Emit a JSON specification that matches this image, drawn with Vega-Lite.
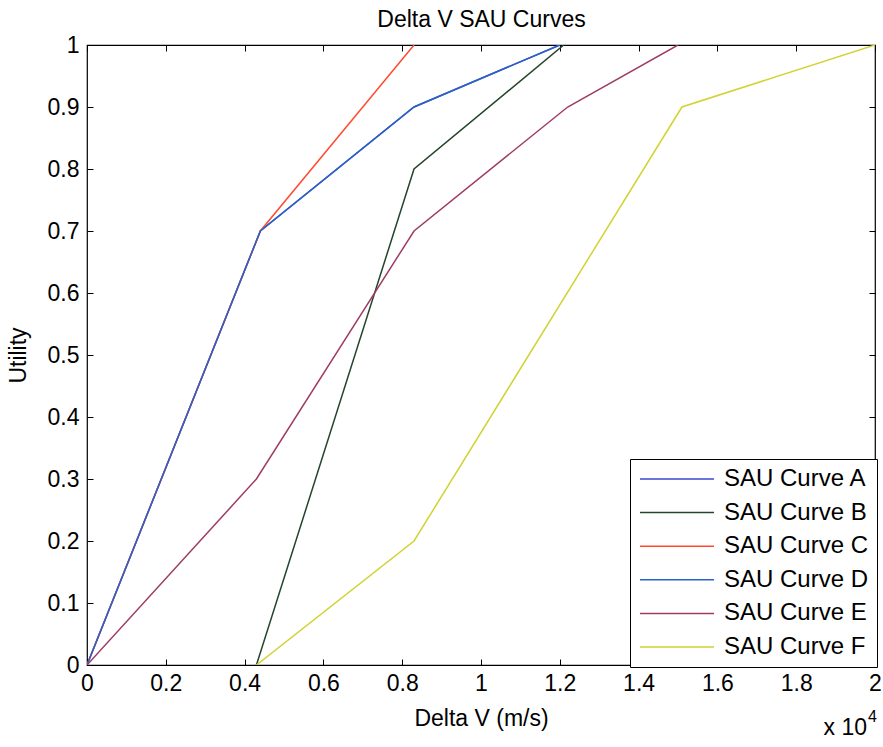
{
  "$schema": "https://vega.github.io/schema/vega-lite/v6.json",
  "width": 788,
  "height": 620,
  "autosize": "none",
  "padding": {"left": 87, "top": 45, "right": 8, "bottom": 82},
  "background": "white",
  "config": {
    "font": "Liberation Sans",
    "view": {"stroke": "black", "strokeWidth": 1.2},
    "axis": {"grid": false, "domainColor": "black", "tickColor": "black", "labelColor": "black", "titleColor": "black", "labelFont": "Liberation Sans", "titleFont": "Liberation Sans"}
  },
  "data": {"values": [
    {"curve": "SAU Curve A", "dv": 0, "u": 0},
    {"curve": "SAU Curve A", "dv": 4400, "u": 0.7},
    {"curve": "SAU Curve A", "dv": 8300, "u": 0.9},
    {"curve": "SAU Curve A", "dv": 12000, "u": 1.0},
    {"curve": "SAU Curve B", "dv": 4300, "u": 0},
    {"curve": "SAU Curve B", "dv": 8300, "u": 0.8},
    {"curve": "SAU Curve B", "dv": 12100, "u": 1.0},
    {"curve": "SAU Curve C", "dv": 0, "u": 0},
    {"curve": "SAU Curve C", "dv": 4400, "u": 0.7},
    {"curve": "SAU Curve C", "dv": 8300, "u": 1.0},
    {"curve": "SAU Curve D", "dv": 0, "u": 0},
    {"curve": "SAU Curve D", "dv": 4400, "u": 0.7},
    {"curve": "SAU Curve D", "dv": 8300, "u": 0.9},
    {"curve": "SAU Curve D", "dv": 12000, "u": 1.0},
    {"curve": "SAU Curve E", "dv": 0, "u": 0},
    {"curve": "SAU Curve E", "dv": 4300, "u": 0.3},
    {"curve": "SAU Curve E", "dv": 8300, "u": 0.7},
    {"curve": "SAU Curve E", "dv": 12200, "u": 0.9},
    {"curve": "SAU Curve E", "dv": 15000, "u": 1.0},
    {"curve": "SAU Curve F", "dv": 4300, "u": 0},
    {"curve": "SAU Curve F", "dv": 8300, "u": 0.2},
    {"curve": "SAU Curve F", "dv": 15100, "u": 0.9},
    {"curve": "SAU Curve F", "dv": 20000, "u": 1.0}
  ]},
  "layer": [
    {
      "mark": {"type": "line", "strokeWidth": 1.5, "clip": true},
      "encoding": {
        "x": {"field": "dv", "type": "quantitative", "scale": {"domain": [0, 20000], "nice": false},
          "axis": {"orient": "bottom", "title": "Delta V (m/s)", "titleFontSize": 23, "titleFontWeight": "normal", "titlePadding": 12,
            "values": [0, 2000, 4000, 6000, 8000, 10000, 12000, 14000, 16000, 18000, 20000],
            "labelExpr": "format(datum.value / 10000, '.1~f')", "labelFontSize": 23, "tickSize": -6, "labelPadding": 13, "domain": false, "labelFlush": false}},
        "y": {"field": "u", "type": "quantitative", "scale": {"domain": [0, 1], "nice": false},
          "axis": {"orient": "left", "title": "Utility", "titleFontSize": 23, "titleFontWeight": "normal", "titlePadding": 17,
            "values": [0, 0.1, 0.2, 0.3, 0.4, 0.5, 0.6, 0.7, 0.8, 0.9, 1],
            "labelExpr": "format(datum.value, '.1~f')", "labelFontSize": 23, "tickSize": -6, "labelPadding": 14, "domain": false, "labelFlush": false}},
        "color": {"field": "curve", "type": "nominal",
          "scale": {"domain": ["SAU Curve A", "SAU Curve B", "SAU Curve C", "SAU Curve D", "SAU Curve E", "SAU Curve F"],
                    "range": ["#3a48d0", "#24452c", "#ff4a30", "#2a62c4", "#9e3c66", "#d2d232"]},
          "legend": {"title": null, "orient": "bottom-right", "offset": -2, "symbolType": "M-1,0H6.4", "symbolSize": 400, "symbolStrokeWidth": 1.5,
            "labelFontSize": 24, "labelFont": "Liberation Sans", "labelColor": "black", "labelOffset": 62, "rowPadding": 9.6,
            "padding": 8, "strokeColor": "black", "fillColor": "white", "symbolFillColor": "transparent", "labelLimit": 300}}
      }
    },
    {
      "data": {"values": [{"note": "x 10"}]},
      "mark": {"type": "text", "align": "right", "baseline": "alphabetic", "fontSize": 23, "fontWeight": "normal", "dy": 70, "dx": -8, "font": "Liberation Sans", "fill": "black"},
      "encoding": {
        "text": {"field": "note", "type": "nominal"},
        "x": {"datum": 20000, "type": "quantitative",
          "axis": {"orient": "top", "labels": false, "title": "Delta V SAU Curves", "titleFontSize": 23, "titleFontWeight": "normal", "titlePadding": 13, "tickSize": -6, "domain": false,
            "values": [0, 2000, 4000, 6000, 8000, 10000, 12000, 14000, 16000, 18000, 20000]}},
        "y": {"datum": 0, "type": "quantitative",
          "axis": {"orient": "right", "labels": false, "title": null, "tickSize": -6, "domain": false,
            "values": [0, 0.1, 0.2, 0.3, 0.4, 0.5, 0.6, 0.7, 0.8, 0.9, 1]}}
      }
    },
    {
      "data": {"values": [{"note": "4"}]},
      "mark": {"type": "text", "align": "left", "baseline": "alphabetic", "fontSize": 16, "fontWeight": "normal", "dy": 57, "dx": -7, "font": "Liberation Sans", "fill": "black"},
      "encoding": {
        "text": {"field": "note", "type": "nominal"},
        "x": {"datum": 20000, "type": "quantitative", "axis": null},
        "y": {"datum": 0, "type": "quantitative", "axis": null}
      }
    }
  ],
  "resolve": {"axis": {"x": "independent", "y": "independent"}}
}
